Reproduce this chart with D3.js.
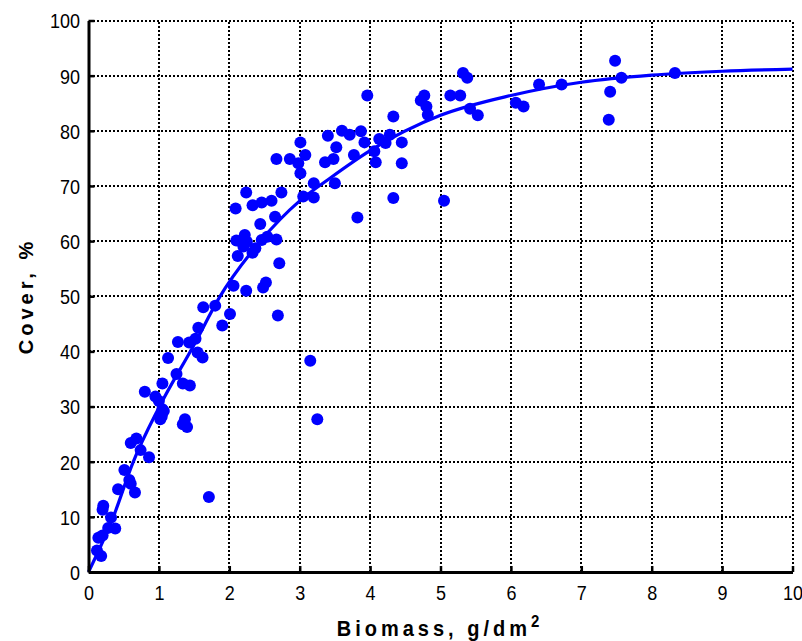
<!DOCTYPE html>
<html>
<head>
<meta charset="utf-8">
<script src="https://cdn.jsdelivr.net/npm/d3@7"></script>
<style>
  body { margin: 0; background: #fff; }
  text { font-family: Arial, "Liberation Sans", sans-serif; fill: #000; }
</style>
</head>
<body>
<svg id="chart" width="802" height="641"></svg>
<script>
"use strict";

// tick values
const xTicks = [0, 1, 2, 3, 4, 5, 6, 7, 8, 9, 10];
const yTicks = [0, 10, 20, 30, 40, 50, 60, 70, 80, 90, 100];

// measured points: biomass (g/dm2) and cover (%)
const biomass = [
  0.12, 0.18, 0.14, 0.20, 0.21, 0.20, 0.28, 0.38, 0.32, 0.42, 0.51, 0.58, 0.60, 0.66,
  0.60, 0.68, 0.74, 0.86, 0.80, 0.95, 1.00, 1.05, 1.04, 1.07, 1.02, 1.13, 1.25, 1.05,
  1.34, 1.44, 1.37, 1.34, 1.40, 1.27, 1.43, 1.52, 1.55, 1.62, 1.56, 1.63, 1.80, 1.90,
  2.01, 1.71, 2.06, 2.24, 2.48, 2.52, 2.69, 2.71, 2.12, 2.20, 2.25, 2.10, 2.22, 2.33,
  2.37, 2.46, 2.54, 2.67, 2.44, 2.65, 2.09, 2.33, 2.46, 2.60, 2.24, 2.74, 3.05, 3.20,
  3.20, 3.50, 3.01, 2.98, 2.67, 2.86, 3.08, 3.36, 3.48, 3.77, 3.40, 3.01, 3.52, 3.60,
  3.71, 3.87, 3.92, 4.13, 4.28, 4.22, 4.45, 4.06, 4.08, 4.45, 3.96, 4.33, 4.33, 3.82,
  3.15, 3.25, 4.72, 4.77, 4.80, 4.82, 5.05, 5.14, 5.28, 5.32, 5.38, 5.42, 5.53, 6.07,
  6.18, 6.40, 6.72, 7.39, 7.41, 7.48, 7.57, 8.33
];
const cover = [
  3.9, 2.9, 6.2, 6.6, 12.0, 11.3, 8.0, 7.9, 9.9, 15.0, 18.5, 16.7, 16.0, 14.4,
  23.4, 24.2, 22.1, 20.8, 32.7, 31.8, 31.0, 29.5, 28.2, 29.2, 27.7, 38.8, 35.9, 34.2,
  34.2, 33.8, 27.7, 26.8, 26.3, 41.7, 41.6, 42.3, 39.8, 38.9, 44.3, 48.0, 48.3, 44.7,
  46.8, 13.6, 51.9, 51.0, 51.6, 52.5, 46.5, 56.0, 57.3, 59.0, 59.9, 60.1, 61.1, 57.9,
  58.7, 60.2, 60.8, 60.3, 63.1, 64.4, 65.9, 66.5, 67.0, 67.3, 68.8, 68.8, 68.1, 67.9,
  70.5, 70.5, 72.3, 74.1, 74.9, 74.9, 75.6, 74.3, 74.9, 75.6, 79.1, 77.9, 77.0, 80.0,
  79.3, 79.9, 77.9, 78.5, 79.3, 77.8, 77.9, 76.3, 74.3, 74.1, 86.4, 82.6, 67.8, 64.3,
  38.3, 27.7, 85.5, 86.4, 84.4, 82.9, 67.3, 86.4, 86.4, 90.5, 89.6, 84.0, 82.8, 85.1,
  84.4, 88.4, 88.4, 82.0, 87.1, 92.7, 89.6, 90.5
];

// fitted curve
const fitX = [0, 0.35, 0.63, 1, 1.5, 1.86, 2.45, 3, 3.43, 4, 5, 6, 7, 8, 9, 10];
const fitY = [0, 9.9, 19.8, 29.8, 41.2, 49.8, 60.1, 67.3, 71.4, 76.4, 82.8, 86.4, 88.8, 90.1, 90.8, 91.2];

const blue = "#0000ff";

var graph = {};
graph.svg = d3.select("#chart");

var x = d3.scaleLinear().domain([0, 10]).range([88.5, 792.5]);
var y = d3.scaleLinear().domain([0, 100]).range([572, 20.5]);

// dotted grid
graph.grid = graph.svg.append("g").attr("class", "grid");

graph.grid.selectAll("line.gx")
  .data(xTicks.slice(1))
  .enter()
  .append("line")
  .attr("x1", d => Math.round(x(d)))
  .attr("x2", d => Math.round(x(d)))
  .attr("y1", y(0))
  .attr("y2", y(100));

graph.grid.selectAll("line.gy")
  .data(yTicks.slice(1))
  .enter()
  .append("line")
  .attr("x1", x(0))
  .attr("x2", x(10))
  .attr("y1", d => Math.round(y(d)))
  .attr("y2", d => Math.round(y(d)));

graph.grid.selectAll("line")
  .attr("stroke", "#000")
  .attr("stroke-width", 2)
  .attr("stroke-dasharray", "2,2")
  .attr("shape-rendering", "crispEdges");

// fit curve
var fit = fitX.map((v, i) => [v, fitY[i]]);
graph.svg.append("path")
  .datum(fit)
  .attr("fill", "none")
  .attr("stroke", blue)
  .attr("stroke-width", 3.2)
  .attr("d", d3.line()
    .x(d => x(d[0]))
    .y(d => y(d[1]))
    .curve(d3.curveMonotoneX));

// observations
var pts = biomass.map((v, i) => ({ b: v, c: cover[i] }));
graph.svg.append("g")
  .selectAll("circle")
  .data(pts)
  .enter()
  .append("circle")
  .attr("cx", d => x(d.b))
  .attr("cy", d => y(d.c))
  .attr("r", 6)
  .attr("fill", blue);

// axes, ticks pointing inwards
var xAxis = d3.axisBottom(x)
  .tickValues(xTicks)
  .tickFormat(d3.format("d"))
  .tickSizeInner(-6)
  .tickSizeOuter(0);

var yAxis = d3.axisLeft(y)
  .tickValues(yTicks)
  .tickFormat(d3.format("d"))
  .tickSizeInner(-6)
  .tickSizeOuter(0);

var gX = graph.svg.append("g")
  .attr("transform", "translate(0," + y(0) + ")")
  .call(xAxis);

var gY = graph.svg.append("g")
  .attr("transform", "translate(" + x(0) + ",0)")
  .call(yAxis);

[gX, gY].forEach(g => {
  g.select(".domain").attr("stroke", "#000").attr("stroke-width", 3);
  g.selectAll(".tick line").attr("stroke", "#000").attr("stroke-width", 2.5);
  g.selectAll(".tick text")
    .attr("font-family", "Arial, 'Liberation Sans', sans-serif")
    .attr("font-size", 18)
    .attr("fill", "#000")
    .attr("x", 0)
    .attr("y", 0)
    .attr("dy", null);
});

// digits in the source are a little taller than wide
gX.selectAll(".tick text")
  .attr("text-anchor", "middle")
  .attr("transform", "translate(0,28) scale(1,1.15)");
gY.selectAll(".tick text")
  .attr("text-anchor", "end")
  .attr("transform", "translate(-8.5,7.4) scale(1,1.15)");

// axis titles
var xTitle = graph.svg.append("text")
  .attr("transform", "translate(440,636) scale(1,1.1)")
  .attr("text-anchor", "middle")
  .attr("font-size", 20)
  .attr("font-weight", "bold")
  .attr("letter-spacing", "4px");
xTitle.append("tspan").text("Biomass, g/dm");
xTitle.append("tspan")
  .attr("font-size", 15)
  .attr("dy", -8)
  .text("2");

graph.svg.append("text")
  .attr("transform", "translate(33,296) rotate(-90)")
  .attr("text-anchor", "middle")
  .attr("font-size", 20)
  .attr("font-weight", "bold")
  .attr("letter-spacing", "4px")
  .text("Cover, %");
</script>
</body>
</html>
